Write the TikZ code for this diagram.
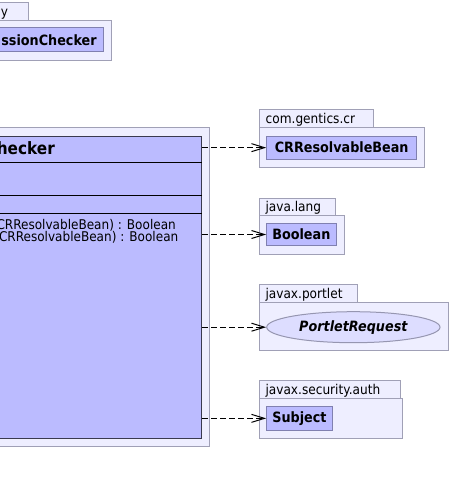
\documentclass[tikz,border=0pt]{standalone}
\usepackage{fontspec}
\setmainfont{DejaVu Sans}[FakeStretch=0.9]
\usetikzlibrary{shapes.geometric,arrows.meta}
\definecolor{pkgfill}{RGB}{238,238,255}
\definecolor{pkgline}{RGB}{160,160,182}
\definecolor{clsfill}{RGB}{187,187,255}
\definecolor{clsline}{RGB}{128,128,176}
\definecolor{ellfill}{RGB}{221,221,255}
\definecolor{ellline}{RGB}{150,150,176}
\begin{document}
\begin{tikzpicture}[x=1pt,y=-1pt,
  pkg/.style={draw=pkgline,fill=pkgfill,line width=1pt,inner sep=0pt,rectangle},
  cls/.style={draw=clsline,fill=clsfill,line width=1pt,inner sep=0pt,rectangle,
    font=\fontsize{14.2}{16}\selectfont\bfseries},
  ell/.style={draw=ellline,fill=ellfill,line width=1pt,inner sep=0pt,ellipse,
    font=\fontsize{14.2}{16}\selectfont\bfseries\itshape},
  tabtext/.style={anchor=base west,inner sep=0pt,font=\fontsize{13.5}{16}\selectfont},
  mtext/.style={anchor=base east,inner sep=0pt,font=\fontsize{13.4}{16}\selectfont},
  dep/.style={draw=black,line width=1pt,dash pattern=on 6pt off 3pt,
    -{Straight Barb[length=13pt,width=8pt,line width=1pt]}}]
\useasboundingbox (0,0) rectangle (450,484);
\clip (0,0) rectangle (450,484);
\fill[white] (0,0) rectangle (450,484);

% top-left package
\node[pkg,minimum width=88.5pt,minimum height=18pt] (tltab) at (-15.75,11.5) {};
\node[pkg,minimum width=171pt,minimum height=40.5pt] (tlbody) at (25.5,40.75) {};
\node[tabtext,anchor=base east] (tlname) at (8.3,16.7) {y};
\node[cls,minimum width=108pt,minimum height=24pt] (pc) at (49,40) {ssionChecker};

% main package
\node[pkg,minimum width=269.5pt,minimum height=318.7pt] (mainpkg) at (74.75,286.65) {};
\node[draw=black!55!clsline,fill=clsfill,line width=1pt,inner sep=0pt,minimum width=261.5pt,minimum height=302.5pt] (main) at (70.75,287.25) {};
\node[anchor=base east,inner sep=0pt,font=\fontsize{17}{19}\selectfont\bfseries] (mainname) at (55,154.5) {Checker};
\coordinate (l1) at (0,162);
\coordinate (l2) at (0,195);
\coordinate (l3) at (0,213);
\draw[black,line width=1pt] (main.west |- l1) -- (main.east |- l1);
\draw[black,line width=1pt] (main.west |- l2) -- (main.east |- l2);
\draw[black,line width=1pt] (main.west |- l3) -- (main.east |- l3);
\node[mtext] (m1) at (176,229) {CRResolvableBean) : Boolean};
\node[mtext] (m2) at (178.5,241.3) {(CRResolvableBean) : Boolean};

% com.gentics.cr
\node[pkg,minimum width=114.3pt,minimum height=17.3pt] (crtab) at (316.15,118.65) {};
\node[pkg,minimum width=165pt,minimum height=40pt] (crbody) at (341.5,147.3) {};
\node[tabtext] (crname) at (265.5,123.5) {com.gentics.cr};
\node[cls,minimum width=150pt,minimum height=23.3pt] (cr) at (341.7,147.65) {CRResolvableBean};

% java.lang
\node[pkg,minimum width=76pt,minimum height=17.3pt] (jltab) at (297,206.65) {};
\node[pkg,minimum width=85.3pt,minimum height=39pt] (jlbody) at (301.65,234.8) {};
\node[tabtext] (jlname) at (265.3,211.5) {java.lang};
\node[cls,minimum width=69.3pt,minimum height=22.4pt] (bool) at (301.35,234.5) {Boolean};

% javax.portlet
\node[pkg,minimum width=98.3pt,minimum height=18.3pt] (jptab) at (308.15,293.15) {};
\node[pkg,minimum width=189pt,minimum height=47.7pt] (jpbody) at (353.5,326.15) {};
\node[tabtext] (jpname) at (265.3,298.5) {javax.portlet};
\node[ell,minimum width=173.3pt,minimum height=31pt] (pr) at (353.35,327.2) {PortletRequest};

% javax.security.auth
\node[pkg,minimum width=141.7pt,minimum height=18.3pt] (jstab) at (329.85,389.15) {};
\node[pkg,minimum width=143.7pt,minimum height=40pt] (jsbody) at (330.85,418.3) {};
\node[tabtext] (jsname) at (265.3,394.5) {javax.security.auth};
\node[cls,minimum width=65.6pt,minimum height=24.7pt] (subj) at (299.5,418.35) {Subject};

% dependencies
\draw[dep] (main.east |- cr.west) -- (cr.west);
\draw[dep] (main.east |- bool.west) -- (bool.west);
\draw[dep] (main.east |- pr.west) -- (pr.west);
\draw[dep] (main.east |- subj.west) -- (subj.west);
\end{tikzpicture}
\end{document}
